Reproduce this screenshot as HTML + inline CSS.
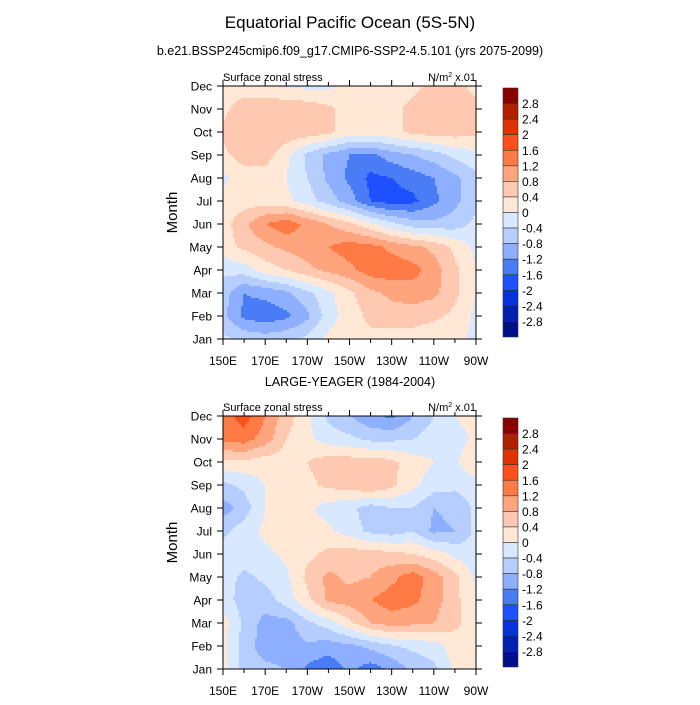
<!DOCTYPE html>
<html><head><meta charset="utf-8"><style>
body{margin:0;background:#fff;width:700px;height:700px;overflow:hidden}
svg text{font-family:"Liberation Sans",sans-serif;fill:#000}
</style></head><body>
<svg id="chart" width="700" height="700" xmlns="http://www.w3.org/2000/svg">
<text x="350" y="28" font-size="17" text-anchor="middle">Equatorial Pacific Ocean (5S-5N)</text>
<text x="350" y="55" font-size="12.5" text-anchor="middle">b.e21.BSSP245cmip6.f09_g17.CMIP6-SSP2-4.5.101 (yrs 2075-2099)</text>
<text x="350" y="386" font-size="12.5" text-anchor="middle">LARGE-YEAGER (1984-2004)</text>
</svg>
<script>
const months=["Jan","Feb","Mar","Apr","May","Jun","Jul","Aug","Sep","Oct","Nov","Dec"];
const lonLabels=["150E","170E","170W","150W","130W","110W","90W"];
const levels=[-2.8,-2.4,-2,-1.6,-1.2,-0.8,-0.4,0,0.4,0.8,1.2,1.6,2,2.4,2.8];
const levelLabels=["2.8","2.4","2","1.6","1.2","0.8","0.4","0","-0.4","-0.8","-1.2","-1.6","-2","-2.4","-2.8"];
const colors=["#00108c","#0020b0","#0632dc","#1e50ff","#4a7cf6","#8eaeff","#b5ceff","#d7e8ff","#ffe8d6","#ffc8b0","#ffa47c","#ff7a45","#ff4f1a","#e03200","#b32000","#8a0000"];
// rows Jan..Dec, columns 150E..90W every 10 deg
const modelData=[
[-0.3,-0.5,-0.6,-0.5,-0.3,0.1,0.2,0.3,0.2,0.2,0.1,0.1,-0.1],
[-0.7,-1.3,-1.45,-1.3,-0.9,-0.2,0.2,0.5,0.6,0.6,0.5,0.3,-0.1],
[-0.6,-1.2,-1.1,-0.9,-0.5,-0.1,0.3,0.7,0.9,1.0,0.9,0.5,0.0],
[-0.3,-0.2,0.2,0.4,0.7,0.9,1.1,1.4,1.45,1.35,1.0,0.5,0.0],
[0.2,0.5,0.7,0.9,1.0,1.2,1.4,1.35,1.1,0.9,0.7,0.3,-0.1],
[0.2,0.7,1.2,1.45,1.1,0.8,0.5,0.1,-0.3,-0.6,-0.7,-0.6,-0.3],
[0.2,0.2,0.2,0.1,-0.2,-0.6,-1.0,-1.6,-1.8,-1.7,-1.3,-0.9,-0.5],
[-0.1,0.2,0.2,0.0,-0.4,-0.9,-1.3,-1.7,-1.6,-1.4,-1.2,-0.9,-0.5],
[0.3,0.6,0.6,0.1,-0.5,-0.9,-1.2,-1.3,-1.0,-0.8,-0.6,-0.3,-0.1],
[0.5,0.7,0.7,0.7,0.65,0.5,0.2,0.2,0.3,0.5,0.6,0.6,0.5],
[0.3,0.6,0.7,0.75,0.65,0.5,0.2,0.2,0.3,0.5,0.6,0.6,0.5],
[0.2,0.2,0.1,-0.1,-0.1,-0.1,0.1,0.2,0.2,0.3,0.5,0.5,0.3]];
const obsData=[
[0.1,-0.6,-0.7,-0.8,-1.3,-1.5,-1.1,-1.4,-1.1,-0.7,-0.5,0.1,0.2],
[0.1,-0.6,-1.0,-1.05,-0.85,-1.0,-0.9,-0.7,-0.45,-0.3,-0.2,0.2,0.2],
[0.2,-0.5,-0.95,-0.95,-0.5,-0.2,0.3,0.8,1.0,0.9,0.8,0.5,0.2],
[-0.2,-0.6,-0.6,-0.2,0.3,0.9,1.0,1.2,1.4,1.3,1.0,0.5,0.1],
[-0.2,-0.5,-0.3,-0.1,0.5,0.9,0.7,0.8,1.1,1.4,1.0,0.5,-0.1],
[-0.2,-0.2,-0.1,0.1,0.3,0.5,0.6,0.6,0.5,0.4,0.2,-0.1,-0.3],
[-0.5,-0.2,0.1,0.2,0.2,0.1,-0.2,-0.5,-0.6,-0.4,-0.9,-0.8,-0.3],
[-1.0,-0.6,0.0,0.1,0.1,-0.2,-0.3,-0.6,-0.4,-0.4,-0.8,-0.7,-0.3],
[-0.5,-0.3,0.0,0.2,0.3,0.5,0.6,0.8,0.5,0.1,-0.2,-0.3,-0.2],
[0.3,0.3,0.2,0.2,0.4,0.6,0.6,0.6,0.5,0.2,0.0,-0.1,0.4],
[1.3,1.4,1.0,0.4,0.1,-0.2,-0.3,-0.5,-0.5,-0.4,-0.2,-0.2,0.1],
[1.4,1.8,1.2,0.6,0.1,-0.5,-0.8,-1.1,-1.3,-0.8,-0.4,0.0,0.2]];

const NS="http://www.w3.org/2000/svg";
const svg=document.getElementById('chart');
function mk(tag,attrs,parent){const e=document.createElementNS(NS,tag);for(const k in attrs)e.setAttribute(k,attrs[k]);(parent||svg).appendChild(e);return e;}
function colorFor(v){let i=0;while(i<levels.length&&v>=levels[i])i++;return colors[i];}

function panel(data,top,name){
  const L=223,R=476,T=top,B=top+253;
  const ncol=data[0].length,nrow=data.length;
  const xs=c=>L+(R-L)*c/(ncol-1);
  const ys=r=>B-(B-T)*r/(nrow-1);
  const g=mk('g',{});
  
  
  const step=2;
  function val(px,py){
    const c=(px-L)/(R-L)*(ncol-1), r=(B-py)/(B-T)*(nrow-1);
    const c0=Math.max(0,Math.min(ncol-2,Math.floor(c))), r0=Math.max(0,Math.min(nrow-2,Math.floor(r)));
    const fc=Math.min(1,Math.max(0,c-c0)), fr=Math.min(1,Math.max(0,r-r0));
    const a=data[r0][c0],b=data[r0][c0+1],d=data[r0+1][c0],e=data[r0+1][c0+1];
    return (a*(1-fc)+b*fc)*(1-fr)+(d*(1-fc)+e*fc)*fr;
  }
  for(let y=T;y<B;y+=step){
    let runStart=L,runCol=null;
    for(let x=L;x<R+step;x+=step){
      const col=x<R?colorFor(val(x+step/2,y+step/2)):null;
      if(col!==runCol){
        if(runCol){const xe=Math.min(x,R);const rc=mk('rect',{x:runStart,y:y,width:xe-runStart+(xe<R?0.5:0),height:Math.min(step+0.5,B-y),fill:runCol},g);
          
          }
        runStart=x;runCol=col;
      }
    }
  }
  const fr=mk('rect',{x:L,y:T,width:R-L,height:B-T,fill:'none',stroke:'#000','stroke-width':1});
  
  
  for(let m=0;m<nrow;m++){
    const y=ys(m);
    mk('line',{x1:L-6,x2:L,y1:y,y2:y,stroke:'#000'});
    mk('line',{x1:R,x2:R+6,y1:y,y2:y,stroke:'#000'});
    const t=mk('text',{x:L-11,y:y+4.5,'font-size':12,'text-anchor':'end'});t.textContent=months[m];
    
    
  }
  for(let c=0;c<ncol;c++){
    const x=xs(c),len=c%2===0?6:4;
    mk('line',{x1:x,x2:x,y1:T-len,y2:T,stroke:'#000'});
    mk('line',{x1:x,x2:x,y1:B,y2:B+len,stroke:'#000'});
  }
  lonLabels.forEach((lb,i)=>{const t=mk('text',{x:xs(i*2),y:B+26,'font-size':12,'text-anchor':'middle'});t.textContent=lb;
    
    });
  const yl=mk('text',{x:0,y:0,'font-size':15,'text-anchor':'middle',transform:`translate(177,${(T+B)/2}) rotate(-90)`});yl.textContent='Month';
  
  
  const l1=mk('text',{x:L,y:T-5,'font-size':11});l1.textContent='Surface zonal stress';
  
  
  const l2=mk('text',{x:R,y:T-5,'font-size':11,'text-anchor':'end'});l2.innerHTML='N/m<tspan font-size="7" dy="-4">2</tspan><tspan dy="4"> x.01</tspan>';
  
  
  const cbT=T+2,cbB=B-2,cbH=(cbB-cbT)/colors.length;
  const cb=mk('g',{});
  
  
  for(let k=0;k<colors.length;k++){
    const r=mk('rect',{x:503,y:cbT+k*cbH,width:15,height:cbH,fill:colors[colors.length-1-k],stroke:'#333','stroke-width':0.6},cb);
    
    
  }
  levelLabels.forEach((lb,k)=>{const y=cbT+(k+1)*cbH;
    const t=mk('text',{x:522,y:y+4.5,'font-size':12},cb);t.textContent=lb;
    
    });
}
panel(modelData,86,'top-panel');
panel(obsData,416,'bottom-panel');
</script>
</body></html>
